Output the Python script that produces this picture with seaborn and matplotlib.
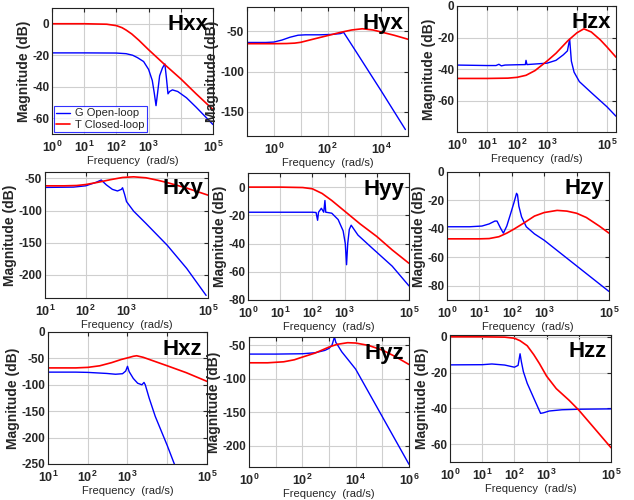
import matplotlib
matplotlib.use("Agg")
import matplotlib.pyplot as plt
import numpy as np
import seaborn as sns

# ---- data (frequency in rad/s, magnitude in dB) ----
hxx_g_freq = [1, 10, 100, 200, 320, 450, 700, 1000, 1300, 1500, 1700, 1900, 2200, 2700, 3200, 3600, 4000, 4500, 5500, 8000, 1.5e4, 3e4, 1e5]
hxx_g_db = [-18.5, -18.5, -18.6, -19.0, -20.0, -21.5, -24, -29, -36, -44, -52, -44, -33, -28, -25.5, -35, -44.5, -43, -42, -43, -47, -53, -64]
hxx_t_freq = [1, 10, 50, 100, 150, 200, 300, 500, 1000, 3000, 1e4, 3e4, 1e5]
hxx_t_db = [0, 0, -0.3, -1.2, -2.5, -4, -6.5, -10.5, -16.5, -25.5, -35, -44.5, -54.5]

hyx_g_freq = [0.1, 0.5, 1, 2, 4, 8, 15, 50, 150, 300, 400, 1000, 1e4, 8e4]
hyx_g_db = [-64, -64, -63.5, -61, -57.5, -55, -54.5, -54.5, -54, -53, -51.5, -72, -124, -172]
hyx_t_freq = [0.1, 1, 3, 6, 10, 30, 100, 300, 800, 2000, 5000, 1e4, 3e4, 1e5]
hyx_t_db = [-65.5, -65.5, -65.3, -64.8, -63.8, -59.8, -55.5, -51.5, -48.5, -47, -48.5, -51, -55, -60]

hzx_g_freq = [1, 10, 20, 25, 30, 40, 100, 190, 200, 215, 300, 1000, 2000, 3500, 4800, 5700, 6500, 8000, 1.2e4, 3e4, 1e5, 2e5]
hzx_g_db = [-37.5, -37.8, -37.8, -37, -38, -37.5, -37.3, -37.2, -34.5, -37.2, -37, -36.3, -34.5, -31, -28.5, -21, -35, -42, -48, -55, -64, -70]
hzx_t_freq = [1, 10, 50, 100, 200, 400, 1000, 2000, 5000, 1e4, 1.7e4, 3e4, 6e4, 1e5, 2e5]
hzx_t_db = [-46, -46, -45.8, -45.3, -44, -41, -35, -30, -22, -17, -14.5, -16.5, -21.5, -26, -32.5]

hxy_g_freq = [10, 50, 100, 180, 240, 320, 450, 600, 750, 800, 900, 1000, 1500, 3000, 1e4, 3e4, 9e4]
hxy_g_db = [-64, -63.5, -61.5, -56, -52.5, -60, -67, -69.5, -67, -64.5, -75, -86, -101, -120, -154, -190, -232]
hxy_t_freq = [10, 30, 60, 100, 200, 400, 800, 1500, 3000, 6000, 1e4, 3e4, 1e5]
hxy_t_db = [-61.5, -61.5, -61, -59.5, -56, -52, -48.5, -47.5, -49, -53, -56.5, -65, -76]

hyy_g_freq = [1, 10, 100, 130, 145, 155, 190, 225, 245, 260, 300, 400, 630, 900, 1050, 1150, 1250, 1400, 1600, 2600, 7000, 3e4, 1e5]
hyy_g_db = [-17.8, -17.8, -17.8, -18, -23.5, -17.8, -15, -17.8, -9.5, -17.8, -18, -18.5, -23, -31, -40, -55, -40, -30, -27, -34, -43, -56, -70]
hyy_t_freq = [1, 10, 50, 100, 200, 400, 1000, 3000, 1e4, 3e4, 1e5]
hyy_t_db = [0, 0, -0.3, -1.2, -4.5, -9.5, -17, -26, -35, -44.5, -54]

hzy_g_freq = [1, 5, 12, 20, 30, 35, 45, 55, 70, 90, 115, 140, 150, 165, 200, 280, 500, 1000, 1e4, 1e5]
hzy_g_db = [-38.5, -38.5, -38, -36.5, -34.5, -34.5, -39.5, -43, -38, -30, -22, -15, -16, -24, -31.5, -38.5, -43.5, -48, -66, -84]
hzy_t_freq = [1, 10, 20, 40, 70, 120, 250, 500, 1000, 2500, 5000, 1e4, 2e4, 5e4, 1e5]
hzy_t_db = [-47, -47, -46.8, -45.5, -43, -40, -35.5, -31, -28.5, -27, -27.5, -29, -32, -38, -43]

hxz_g_freq = [10, 50, 100, 300, 500, 750, 900, 1000, 1100, 1400, 1800, 2300, 2600, 2800, 3500, 5000, 1e4, 1.6e4]
hxz_g_db = [-76, -76, -76.5, -78.5, -80, -79, -74, -65, -75, -88, -97, -100, -95.5, -100, -125, -160, -215, -255]
hxz_t_freq = [10, 50, 100, 200, 400, 700, 1000, 1400, 1700, 2500, 5000, 1e4, 3e4, 1e5]
hxz_t_db = [-68, -68, -67, -64, -58, -52, -49, -46, -45, -48, -56, -64, -77, -93.5]

hyz_g_freq = [1, 10, 100, 300, 700, 1000, 1300, 1600, 1800, 2100, 3000, 5000, 1e4, 1e5, 1e6]
hyz_g_db = [-63.5, -63.5, -63, -61.5, -58, -55, -50, -38, -46, -50, -60, -71, -86, -157, -228]
hyz_t_freq = [1, 5, 20, 50, 100, 300, 1000, 2000, 5000, 1e4, 3e4, 1e5, 3e5, 1e6]
hyz_t_db = [-76.5, -76.5, -75, -72, -68, -62, -53, -49, -46.5, -47, -50.5, -57.5, -67, -79]

hzz_g_freq = [1, 10, 20, 50, 100, 130, 150, 165, 190, 250, 440, 650, 800, 1200, 3000, 1e4, 1e5]
hzz_g_db = [-15.7, -15.6, -15.2, -15.8, -17, -16, -9.5, -14, -19.5, -26, -36, -42.8, -42.5, -41.5, -40.8, -40.5, -40.3]
hzz_t_freq = [1, 10, 50, 100, 150, 250, 400, 600, 1000, 2000, 5000, 1e4, 3e4, 1e5]
hzz_t_db = [0, 0, -0.2, -0.8, -2.2, -5, -10, -15, -22, -29, -35.5, -41, -51, -62]

panel_names = ["Hxx", "Hyx", "Hzx", "Hxy", "Hyy", "Hzy", "Hxz", "Hyz", "Hzz"]
legend_labels = ["G Open-loop", "T Closed-loop"]

sns.set_style("whitegrid")
plt.rcParams["font.family"] = ["Liberation Sans", "DejaVu Sans"]
plt.rcParams["mathtext.fontset"] = "custom"
plt.rcParams["mathtext.rm"] = "Liberation Sans:bold"
plt.rcParams["mathtext.bf"] = "Liberation Sans:bold"
plt.rcParams["mathtext.default"] = "bf"

W, H = 634, 500
fig = plt.figure(figsize=(W / 100, H / 100), dpi=100)

# panel layout: (left, top, right, bottom) in pixels, xlim, ylim, yticks, labelled decades
layout = [
    ((52, 8, 213, 134), (1, 1e5), (-70, 10), [-60, -40, -20, 0], [0, 1, 2, 3, 5]),
    ((247, 7, 408, 136), (0.1, 1e5), (-180, -20), [-150, -100, -50], [0, 2, 4]),
    ((457, 6, 616, 132), (1, 2e5), (-80, 0), [-60, -40, -20, 0], [0, 1, 2, 3, 5]),
    ((45, 172, 208, 298), (10, 1e5), (-236, -40), [-200, -150, -100, -50], [1, 2, 3, 5]),
    ((248, 173, 409, 300), (1, 1e5), (-80, 10), [-80, -60, -40, -20, 0], [0, 1, 2, 3, 5]),
    ((447, 172, 609, 300), (1, 1e5), (-90, 0), [-80, -60, -40, -20, 0], [0, 1, 2, 3, 5]),
    ((48, 332, 207, 464), (10, 1e5), (-250, 0), [-250, -200, -150, -100, -50, 0], [1, 2, 3, 5]),
    ((249, 337, 409, 467), (1, 1e6), (-232, -38), [-200, -150, -100, -50], [0, 2, 4, 6]),
    ((450, 335, 611, 462), (1, 1e5), (-70, 1), [-60, -40, -20, 0], [0, 1, 2, 3, 5]),
]

curves = [
    (hxx_g_freq, hxx_g_db, hxx_t_freq, hxx_t_db),
    (hyx_g_freq, hyx_g_db, hyx_t_freq, hyx_t_db),
    (hzx_g_freq, hzx_g_db, hzx_t_freq, hzx_t_db),
    (hxy_g_freq, hxy_g_db, hxy_t_freq, hxy_t_db),
    (hyy_g_freq, hyy_g_db, hyy_t_freq, hyy_t_db),
    (hzy_g_freq, hzy_g_db, hzy_t_freq, hzy_t_db),
    (hxz_g_freq, hxz_g_db, hxz_t_freq, hxz_t_db),
    (hyz_g_freq, hyz_g_db, hyz_t_freq, hyz_t_db),
    (hzz_g_freq, hzz_g_db, hzz_t_freq, hzz_t_db),
]

for i, (name, (box, xlim, ylim, yticks, labelled), (gf, gd, tf, td)) in enumerate(zip(panel_names, layout, curves)):
    l, t, r, b = box
    ax = fig.add_axes([l / W, 1 - b / H, (r - l) / W, (b - t) / H])
    ax.set_xscale("log")
    sns.lineplot(x=gf, y=gd, ax=ax, color="#0000ff", lw=1.0, estimator=None,
                 label=legend_labels[0] if i == 0 else None)
    sns.lineplot(x=tf, y=td, ax=ax, color="#ff0000", lw=1.2, estimator=None,
                 label=legend_labels[1] if i == 0 else None)
    ax.set_xlim(*xlim)
    ax.set_ylim(*ylim)

    lo, hi = int(np.floor(np.log10(xlim[0]))), int(np.ceil(np.log10(xlim[1])))
    decades = [e for e in range(lo, hi + 1) if xlim[0] <= 10.0 ** e <= xlim[1] * 1.001]
    ax.set_xticks([10.0 ** e for e in decades])
    ax.set_xticklabels([f"$10^{{{e}}}$" if e in labelled else "" for e in decades])
    ax.set_yticks(yticks)
    ax.set_yticklabels([str(v) for v in yticks], fontweight="bold")
    ax.tick_params(axis="both", which="both", direction="in", top=True, right=True)
    ax.tick_params(axis="x", pad=4, labelsize=9)
    ax.tick_params(axis="y", pad=2, labelsize=8.5)
    ax.tick_params(which="major", length=3)
    ax.tick_params(which="minor", length=1.5)

    ax.grid(True, which="major", color="#cfcfcf", lw=0.8)
    ax.grid(True, which="minor", color="#d8d8d8", lw=0.5, ls=":")
    for s in ax.spines.values():
        s.set_color("#222222")
        s.set_linewidth(0.8)

    ax.set_xlabel("Frequency  (rad/s)", fontsize=8, labelpad=1)
    ax.set_ylabel("Magnitude (dB)", fontsize=10, fontweight="bold", labelpad=1)
    ax.text(0.97, 0.95, name, transform=ax.transAxes, ha="right", va="top",
            fontsize=16, fontweight="bold", color="black")

    if i == 0:
        leg = ax.legend(loc="lower left", fontsize=8, frameon=True, fancybox=False,
                        borderaxespad=0.15, handlelength=1.3, handletextpad=0.4,
                        borderpad=0.2, labelspacing=0.15)
        leg.get_frame().set_edgecolor("#0000ff")
        leg.get_frame().set_linewidth(0.8)
    elif ax.get_legend() is not None:
        ax.get_legend().remove()

fig.savefig("out.png", dpi=100)
